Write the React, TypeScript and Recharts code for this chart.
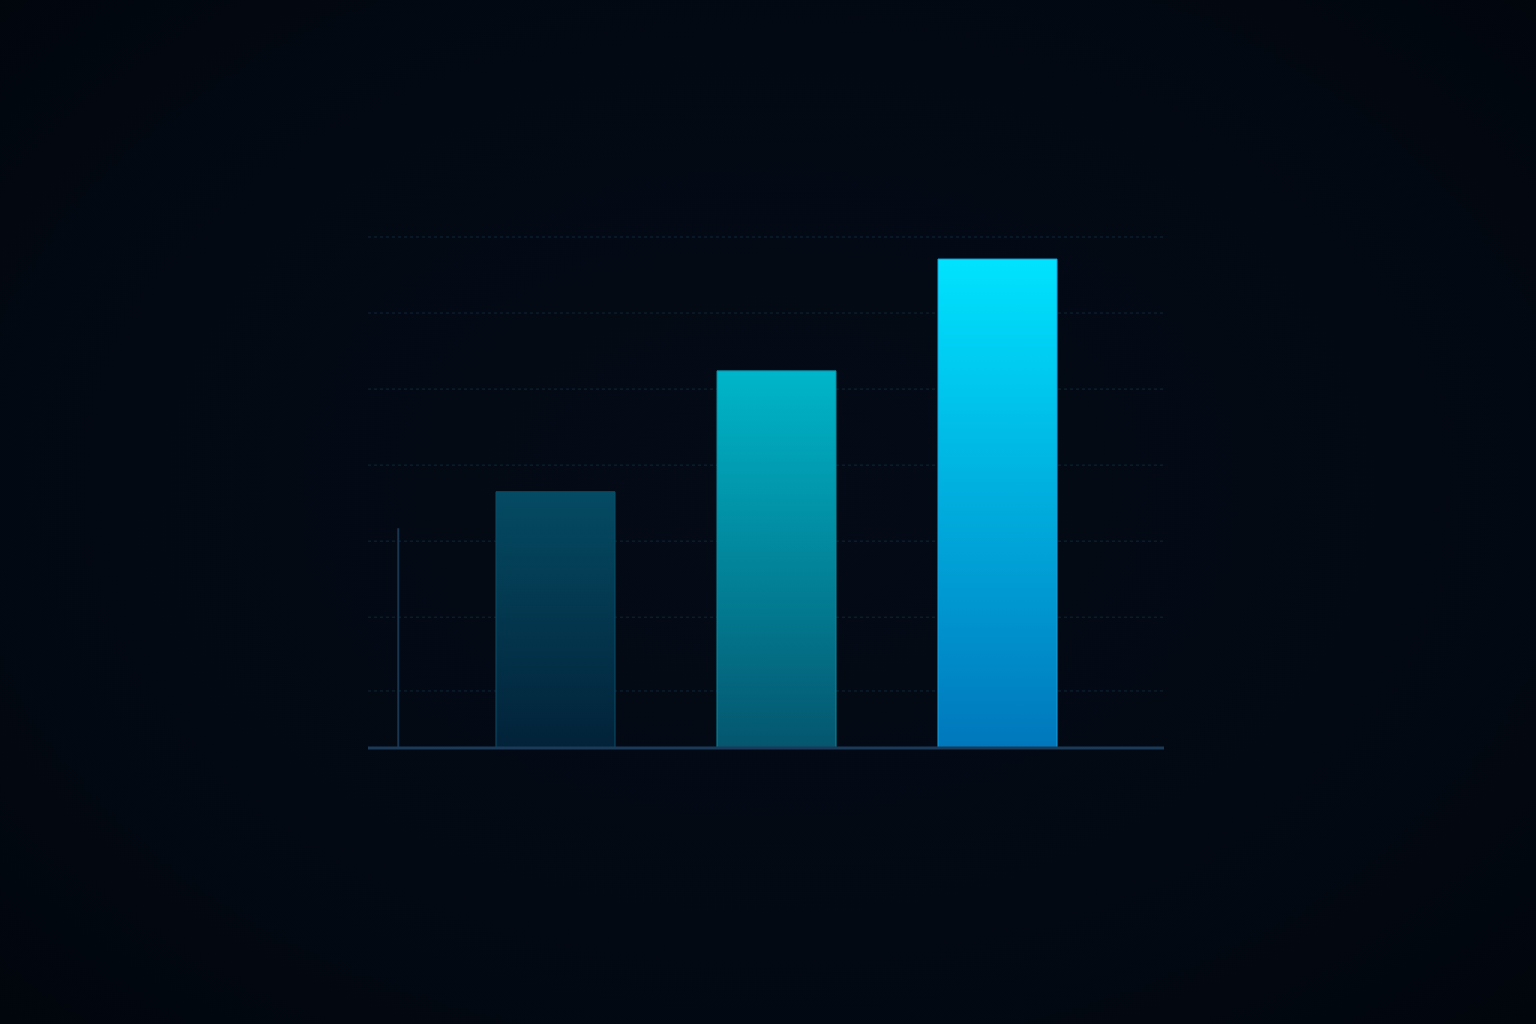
import { BarChart, Bar, Cell, XAxis, YAxis, CartesianGrid, ReferenceLine } from 'recharts';

// values (no labels in the reference)
const categories = ['A', 'B', 'C'];
const values = [33.7, 49.6, 64.3];
const yTicks = [7.5, 17.2, 27.2, 37.2, 47.2, 57.2, 67.2];
const markerX = 3.8; // position on a 0–100 helper axis
const markerTop = 28.9;

const GRADIENTS = [
  { id: 'barLow', top: '#044b63', bottom: '#022239', stroke: '#0a4f68' },
  { id: 'barMid', top: '#00b6ca', bottom: '#04566e', stroke: '#0a8aa0' },
  { id: 'barHigh', top: '#00e3ff', bottom: '#0077bc', stroke: '#1aa0d8' },
];

// the helper axis needs a value in the rows or it gets no scale
const data = categories.map((c, i) => ({ name: c, value: values[i], marker: markerX }));

export default function App() {
  return (
    <div
      style={{
        position: 'absolute',
        left: 0,
        top: 0,
        width: 1536,
        height: 1024,
        background: 'radial-gradient(ellipse at 50% 48%, #040b16 0%, #030913 60%, #01060d 100%)',
      }}
    >
      <BarChart
        width={1536}
        height={1024}
        data={data}
        margin={{ top: 237, right: 372, bottom: 274, left: 368 }}
        barCategoryGap={0}
      >
        <defs>
          {GRADIENTS.map((g) => (
            <linearGradient key={g.id} id={g.id} x1="0" y1="0" x2="0" y2="1">
              <stop offset="0%" stopColor={g.top} />
              <stop offset="100%" stopColor={g.bottom} />
            </linearGradient>
          ))}
        </defs>
        <CartesianGrid vertical={false} stroke="#0f2638" strokeDasharray="3 3" />
        <XAxis
          dataKey="name"
          height={2}
          tick={false}
          tickLine={false}
          padding={{ left: 77, right: 56 }}
          axisLine={{ stroke: '#1b3a58', strokeWidth: 3 }}
        />
        <XAxis xAxisId="ref" type="number" dataKey="marker" domain={[0, 100]} hide />
        <YAxis hide width={0} domain={[0, 67.2]} ticks={yTicks} />
        <Bar dataKey="value" barSize={119} isAnimationActive={false}>
          {data.map((d, i) => (
            <Cell key={d.name} fill={`url(#${GRADIENTS[i].id})`} stroke={GRADIENTS[i].stroke} strokeWidth={1} />
          ))}
        </Bar>
        <ReferenceLine
          xAxisId="ref"
          segment={[
            { x: markerX, y: 0 },
            { x: markerX, y: markerTop },
          ]}
          stroke="#1a3550"
          strokeWidth={2}
          ifOverflow="visible"
        />
      </BarChart>
    </div>
  );
}
